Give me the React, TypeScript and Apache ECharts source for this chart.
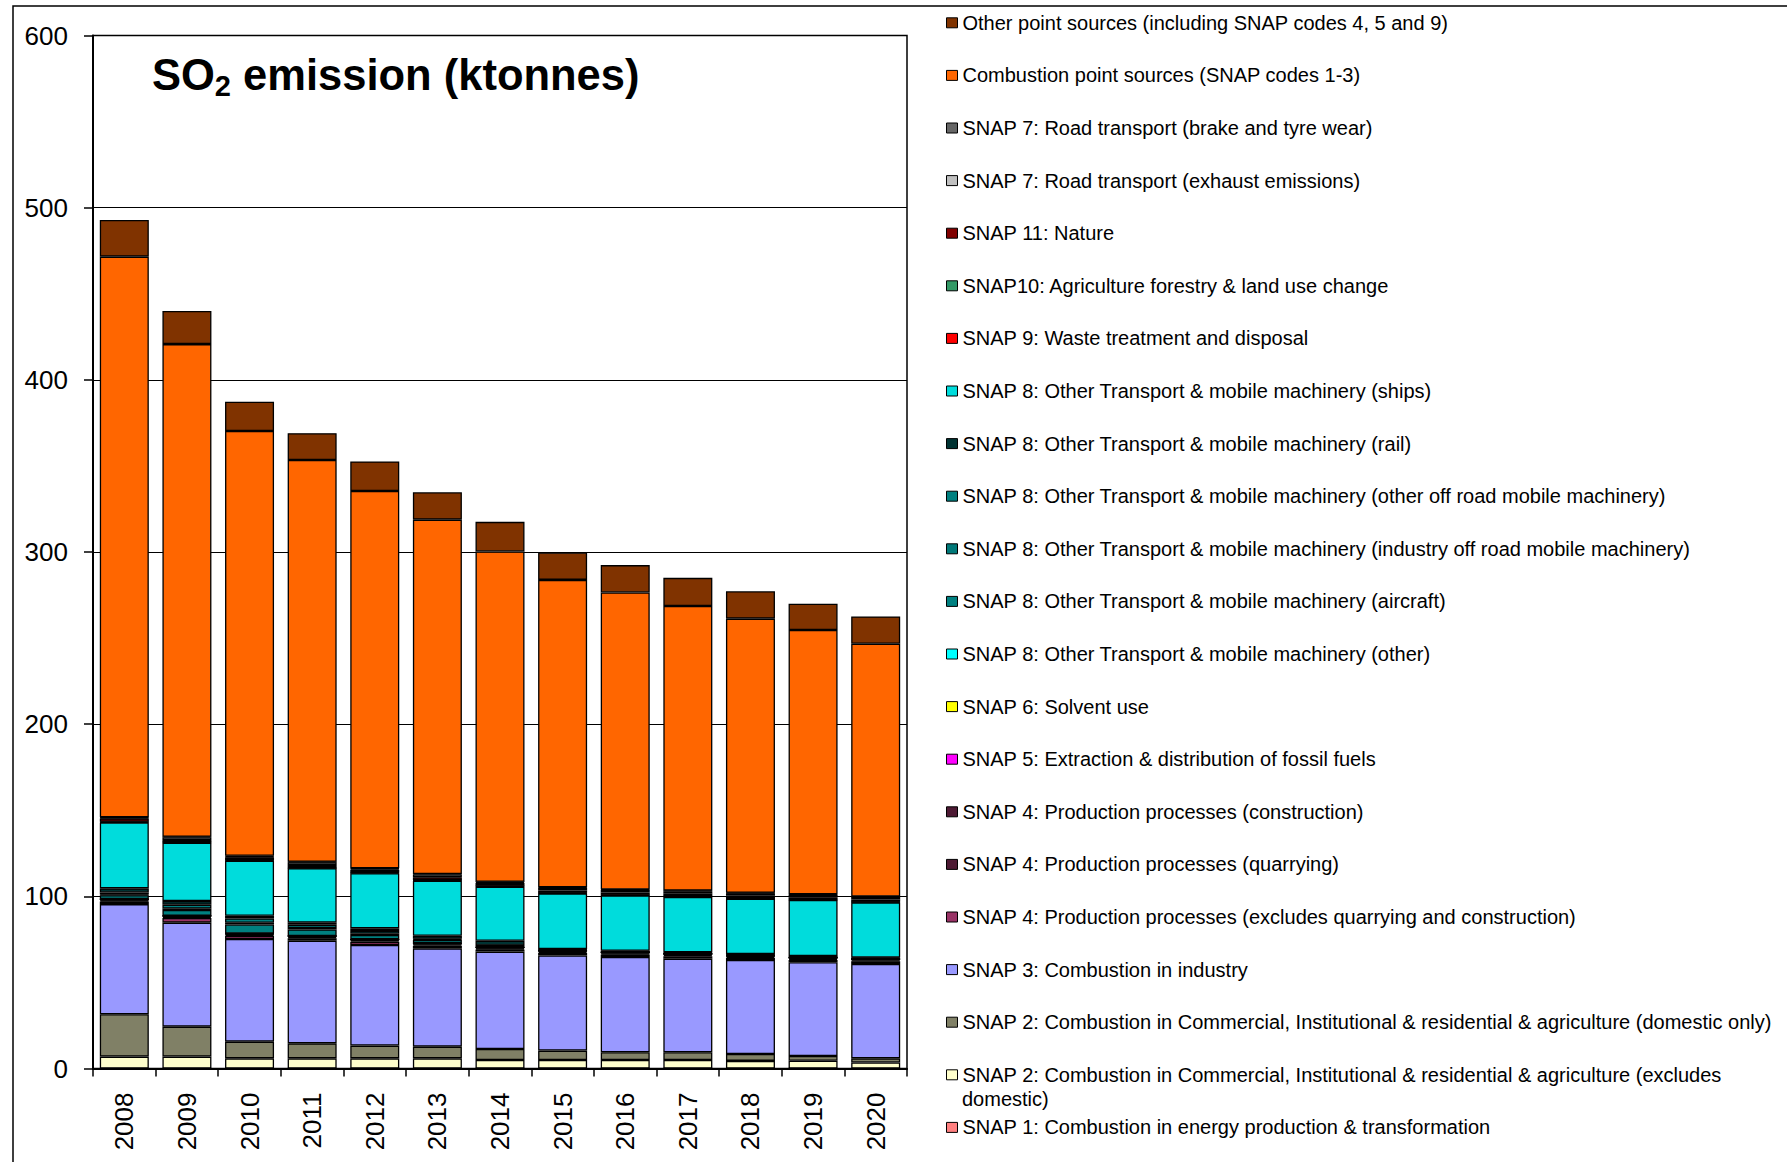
import React, { useEffect, useRef } from "react";
import * as echarts from "echarts";

const years = ["2008", "2009", "2010", "2011", "2012", "2013", "2014", "2015", "2016", "2017", "2018", "2019", "2020"];
const yTicks = [0, 100, 200, 300, 400, 500, 600];

const snap1 = [0, 0, 0, 0, 0, 0, 0, 0, 0, 0, 0, 0, 0];
const snap2Excl = [6.9, 6.9, 5.9, 5.9, 5.9, 5.9, 4.9, 4.9, 4.9, 4.9, 4.4, 4.5, 3.5];
const snap2Dom = [24.6, 17.4, 9.7, 8.7, 7.4, 6.8, 6.4, 5.5, 4.5, 4.5, 4.0, 2.8, 2.4];
const snap3 = [64.0, 60.4, 59.6, 59.6, 58.4, 57.1, 56.6, 55.3, 55.4, 54.4, 54.6, 54.4, 54.8];
const snap4Excl = [1.5, 2.7, 1.9, 1.45, 1.95, 1.55, 1.2, 1.45, 1.35, 1.45, 1.25, 1.35, 1.55];
const snap4Quarry = [0.6, 0.6, 0.6, 0.6, 0.6, 0.6, 0.6, 0.6, 0.6, 0.6, 0.6, 0.6, 0.6];
const snap4Constr = [0.5, 0.5, 0.5, 0.5, 0.5, 0.5, 0.5, 0.5, 0.5, 0.5, 0.5, 0.5, 0.5];
const snap5 = [0.1, 0.1, 0.1, 0.1, 0.1, 0.1, 0.1, 0.1, 0.1, 0.1, 0.1, 0.1, 0.1];
const snap6 = [0.05, 0.05, 0.05, 0.05, 0.05, 0.05, 0.05, 0.05, 0.05, 0.05, 0.05, 0.05, 0.05];
const snap8Other = [0.1, 0.1, 0.1, 0.1, 0.1, 0.1, 0.1, 0.1, 0.1, 0.1, 0.1, 0.1, 0.1];
const snap8Aircraft = [2.3, 3.3, 5.2, 3.8, 2.5, 1.9, 0.4, 0.2, 0.2, 0.2, 0.2, 0.2, 0.2];
const snap8Industry = [0.4, 0.8, 1.0, 0.8, 0.8, 0.4, 0.3, 0.15, 0.15, 0.15, 0.15, 0.15, 0.15];
const snap8OtherOff = [1.2, 2.3, 2.5, 1.9, 1.6, 0.4, 0.3, 0.15, 0.15, 0.15, 0.15, 0.15, 0.15];
const snap8Rail = [2.4, 2.1, 1.5, 1.2, 1.5, 1.7, 2.75, 0.4, 0.4, 0.4, 0.4, 0.4, 0.4];
const snap8Ships = [38.2, 33.9, 32.0, 31.6, 32.0, 32.0, 31.4, 32.3, 32.1, 32.2, 32.1, 32.6, 32.0];
const snap9 = [0.3, 0.2, 0.3, 0.2, 0.3, 0.2, 0.3, 0.2, 0.2, 0.2, 0.2, 0.2, 0.2];
const snap10 = [0.2, 0.2, 0.2, 0.2, 0.2, 0.2, 0.2, 0.2, 0.2, 0.2, 0.2, 0.2, 0.2];
const snap11 = [1.9, 1.2, 1.6, 1.5, 1.6, 1.6, 1.6, 1.3, 1.3, 1.4, 1.3, 1.2, 1.2];
const snap7Exhaust = [0.4, 1.6, 0.5, 1.6, 0.5, 1.6, 0.5, 1.5, 1.5, 1.5, 1.5, 1.4, 1.5];
const snap7Brake = [0.3, 0.3, 0.3, 0.3, 0.3, 0.3, 0.3, 0.3, 0.3, 0.3, 0.3, 0.3, 0.3];
const combustionPoint = [325.6, 286.1, 246.7, 233.3, 219.1, 205.8, 191.8, 178.6, 172.5, 165.3, 159.2, 153.5, 146.8];
const otherPoint = [21.3, 19.2, 17.0, 15.6, 17.2, 15.9, 17.2, 15.9, 15.9, 16.4, 15.9, 15.2, 15.9];

const WRAPPED_NAME = "SNAP 2: Combustion in Commercial, Institutional & residential & agriculture (excludes domestic)";

// bottom-to-top stacking order
const seriesDefs = [
  { name: "SNAP 1: Combustion in energy production & transformation", data: snap1, color: "#FF8080" },
  { name: WRAPPED_NAME, data: snap2Excl, color: "#FFFFCC" },
  { name: "SNAP 2: Combustion in Commercial, Institutional & residential & agriculture (domestic only)", data: snap2Dom, color: "#808066" },
  { name: "SNAP 3: Combustion in industry", data: snap3, color: "#9999FF" },
  { name: "SNAP 4: Production processes (excludes quarrying and construction)", data: snap4Excl, color: "#993366" },
  { name: "SNAP 4: Production processes (quarrying)", data: snap4Quarry, color: "#4D1933" },
  { name: "SNAP 4: Production processes (construction)", data: snap4Constr, color: "#4D1933" },
  { name: "SNAP 5: Extraction & distribution of fossil fuels", data: snap5, color: "#FF00FF" },
  { name: "SNAP 6: Solvent use", data: snap6, color: "#FFFF00" },
  { name: "SNAP 8: Other Transport & mobile machinery (other)", data: snap8Other, color: "#00FFFF" },
  { name: "SNAP 8: Other Transport & mobile machinery (aircraft)", data: snap8Aircraft, color: "#008080" },
  { name: "SNAP 8: Other Transport & mobile machinery (industry off road mobile machinery)", data: snap8Industry, color: "#007878" },
  { name: "SNAP 8: Other Transport & mobile machinery (other off road mobile machinery)", data: snap8OtherOff, color: "#008080" },
  { name: "SNAP 8: Other Transport & mobile machinery (rail)", data: snap8Rail, color: "#003333" },
  { name: "SNAP 8: Other Transport & mobile machinery (ships)", data: snap8Ships, color: "#00DCDC" },
  { name: "SNAP 9: Waste treatment and disposal", data: snap9, color: "#FF0000" },
  { name: "SNAP10: Agriculture forestry & land use change", data: snap10, color: "#339966" },
  { name: "SNAP 11: Nature", data: snap11, color: "#800000" },
  { name: "SNAP 7: Road transport (exhaust emissions)", data: snap7Exhaust, color: "#C0C0C0" },
  { name: "SNAP 7: Road transport (brake and tyre wear)", data: snap7Brake, color: "#666666" },
  { name: "Combustion point sources (SNAP codes 1-3)", data: combustionPoint, color: "#FF6600" },
  { name: "Other point sources (including SNAP codes 4, 5 and 9)", data: otherPoint, color: "#803300" },
];

const FONT = "'Liberation Sans', Arial, sans-serif";

export default function App() {
  const ref = useRef<HTMLDivElement>(null);
  useEffect(() => {
    const chart = echarts.init(ref.current!, null, { renderer: "svg" });
    const option: any = {
      animation: false,
      backgroundColor: "#fff",
      textStyle: { fontFamily: FONT },
      title: {
        text: "{a|SO}{b|2}{a| emission (ktonnes)}",
        left: 152,
        top: 50,
        padding: 0,
        textStyle: {
          rich: {
            a: { fontSize: 43.5, fontWeight: "bold", color: "#000", fontFamily: FONT, lineHeight: 50 },
            b: { fontSize: 29, fontWeight: "bold", color: "#000", fontFamily: FONT, lineHeight: 22, verticalAlign: "bottom" },
          },
        },
      },
      legend: {
        orient: "vertical",
        left: 946,
        top: 12.8,
        padding: 0,
        itemGap: 32.6,
        itemWidth: 11,
        itemHeight: 10,
        icon: "rect",
        selectedMode: false,
        data: seriesDefs.map((s) => s.name).reverse(),
        formatter: (name: string) =>
          name === WRAPPED_NAME
            ? "SNAP 2: Combustion in Commercial, Institutional & residential & agriculture (excludes"
            : name,
        itemStyle: { borderColor: "#000", borderWidth: 1 },
        textStyle: { fontSize: 20, color: "#000", fontFamily: FONT, lineHeight: 20 },
      },
      graphic: [
        {
          type: "rect",
          silent: true,
          z: -10,
          shape: { x: 13, y: 6, width: 1800, height: 1200 },
          style: { fill: "none", stroke: "#000", lineWidth: 1.5 },
        },
        {
          type: "text",
          silent: true,
          x: 962,
          y: 1099,
          style: {
            text: "domestic)",
            fontSize: 20,
            fontFamily: FONT,
            fill: "#000",
            verticalAlign: "middle",
            align: "left",
          },
        },
      ],
      grid: {
        left: 93,
        top: 35.5,
        width: 814,
        height: 1033,
        show: true,
        borderColor: "#000",
        borderWidth: 1.5,
        backgroundColor: "transparent",
      },
      xAxis: {
        type: "category",
        data: years,
        axisLine: { show: true, lineStyle: { color: "#000", width: 2 } },
        axisTick: { show: true, length: 8, interval: 0, lineStyle: { color: "#000", width: 1.5 } },
        axisLabel: { rotate: 90, fontSize: 26, color: "#000", margin: 24, fontFamily: FONT, interval: 0 },
      },
      yAxis: {
        type: "value",
        min: yTicks[0],
        max: yTicks[yTicks.length - 1],
        interval: 100,
        axisLine: { show: true, lineStyle: { color: "#000", width: 2 } },
        axisTick: { show: true, length: 9, lineStyle: { color: "#000", width: 1.5 } },
        axisLabel: { fontSize: 26, color: "#000", margin: 25, fontFamily: FONT },
        splitLine: { show: true, lineStyle: { color: "#000", width: 1 } },
      },
      series: seriesDefs.map((s) => ({
        name: s.name,
        type: "bar",
        stack: "total",
        barWidth: 49,
        data: s.data,
        itemStyle: { color: s.color, borderColor: "#000", borderWidth: 1.3 },
        emphasis: { disabled: true },
      })),
    };
    chart.setOption(option);
    return () => chart.dispose();
  }, []);
  return (
    <div
      ref={ref}
      style={{ position: "absolute", left: 0, top: 0, width: 1787, height: 1162, background: "#fff" }}
    />
  );
}
